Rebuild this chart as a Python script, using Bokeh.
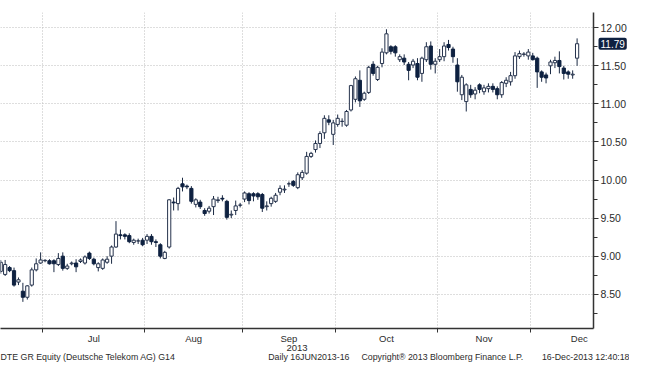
import pandas as pd
from bokeh.plotting import figure
from bokeh.models import (ColumnDataSource, FixedTicker, SingleIntervalTicker,
                          NumeralTickFormatter, Label, Range1d, LinearAxis)
from bokeh.embed import file_html
from bokeh.resources import INLINE

# ---- data -------------------------------------------------------------
dates = pd.bdate_range("2013-06-17", "2013-12-16")  # 131 trading days

opens = [8.80, 8.76, 8.85, 8.81, 8.66, 8.54, 8.46, 8.62, 8.82, 8.91,
         8.94, 8.94, 8.94, 8.89, 9.00, 8.84, 8.90, 8.91, 8.93, 8.91,
         9.04, 8.96, 8.85, 8.84, 8.92, 9.00, 9.12, 9.28, 9.28, 9.27,
         9.18, 9.20, 9.21, 9.21, 9.26, 9.19, 9.15, 8.97, 9.12, 9.71,
         9.69, 9.95, 9.92, 9.89, 9.68, 9.71, 9.60, 9.59, 9.65, 9.73,
         9.76, 9.72, 9.54, 9.60, 9.67, 9.75, 9.82, 9.82, 9.82, 9.81,
         9.65, 9.69, 9.72, 9.84, 9.87, 9.95, 9.98, 9.90, 10.03, 10.09,
         10.31, 10.40, 10.48, 10.62, 10.79, 10.60, 10.73, 10.77, 10.72, 10.92,
         11.06, 11.31, 11.06, 11.15, 11.52, 11.32, 11.53, 11.67, 11.75, 11.75,
         11.58, 11.60, 11.52, 11.51, 11.53, 11.40, 11.58, 11.76, 11.52, 11.58,
         11.62, 11.78, 11.72, 11.51, 11.12, 11.03, 11.19, 11.13, 11.25, 11.16,
         11.20, 11.23, 11.20, 11.12, 11.27, 11.29, 11.37, 11.62, 11.65, 11.63,
         11.63, 11.60, 11.42, 11.38, 11.50, 11.54, 11.57, 11.47, 11.42, 11.38,
         11.60]
highs = [8.95, 8.95, 8.87, 8.85, 8.72, 8.65, 8.62, 8.85, 8.97, 9.05,
         8.96, 8.96, 8.96, 9.04, 9.05, 8.90, 8.93, 8.96, 8.97, 9.01,
         9.06, 8.98, 8.92, 8.97, 9.00, 9.14, 9.46, 9.35, 9.30, 9.30,
         9.23, 9.23, 9.24, 9.29, 9.29, 9.22, 9.17, 9.07, 9.75, 9.77,
         9.91, 10.03, 9.94, 9.92, 9.76, 9.74, 9.63, 9.66, 9.79, 9.78,
         9.80, 9.74, 9.60, 9.73, 9.70, 9.85, 9.84, 9.84, 9.84, 9.83,
         9.72, 9.78, 9.83, 9.93, 9.93, 9.98, 10.00, 10.10, 10.13, 10.37,
         10.37, 10.52, 10.64, 10.85, 10.85, 10.79, 10.86, 10.81, 10.92, 11.25,
         11.36, 11.44, 11.16, 11.50, 11.56, 11.50, 11.73, 11.98, 11.77, 11.77,
         11.65, 11.65, 11.55, 11.59, 11.60, 11.62, 11.81, 11.82, 11.60, 11.72,
         11.81, 11.84, 11.75, 11.60, 11.38, 11.27, 11.25, 11.22, 11.27, 11.25,
         11.27, 11.27, 11.23, 11.30, 11.35, 11.42, 11.68, 11.70, 11.68, 11.72,
         11.67, 11.62, 11.44, 11.41, 11.58, 11.62, 11.69, 11.50, 11.44, 11.44,
         11.86]
lows = [8.77, 8.74, 8.79, 8.60, 8.62, 8.40, 8.43, 8.60, 8.80, 8.90,
        8.92, 8.89, 8.79, 8.87, 8.81, 8.82, 8.88, 8.79, 8.91, 8.89,
        8.95, 8.88, 8.80, 8.82, 8.90, 8.90, 9.11, 9.22, 9.22, 9.17,
        9.15, 9.16, 9.13, 9.16, 9.15, 9.12, 8.97, 8.96, 9.10, 9.60,
        9.60, 9.85, 9.88, 9.69, 9.64, 9.62, 9.53, 9.56, 9.54, 9.70,
        9.72, 9.48, 9.50, 9.54, 9.64, 9.71, 9.68, 9.72, 9.74, 9.58,
        9.60, 9.65, 9.70, 9.80, 9.83, 9.91, 9.91, 9.88, 10.00, 10.07,
        10.29, 10.36, 10.42, 10.54, 10.72, 10.46, 10.70, 10.70, 10.70, 10.90,
        11.02, 10.96, 11.04, 11.13, 11.37, 11.30, 11.48, 11.65, 11.65, 11.62,
        11.55, 11.51, 11.31, 11.47, 11.31, 11.29, 11.55, 11.45, 11.40, 11.55,
        11.56, 11.70, 11.54, 11.16, 11.05, 10.90, 11.08, 11.06, 11.14, 11.12,
        11.15, 11.15, 11.06, 11.08, 11.22, 11.24, 11.33, 11.59, 11.62, 11.58,
        11.57, 11.21, 11.29, 11.27, 11.39, 11.47, 11.40, 11.32, 11.33, 11.33,
        11.50]
closes = [8.92, 8.89, 8.81, 8.62, 8.69, 8.46, 8.61, 8.82, 8.90, 8.95,
          8.945, 8.90, 8.90, 8.97, 8.84, 8.87, 8.91, 8.86, 8.95, 8.99,
          8.97, 8.90, 8.90, 8.95, 8.96, 9.12, 9.29, 9.27, 9.26, 9.19,
          9.21, 9.20, 9.15, 9.26, 9.19, 9.18, 9.00, 9.05, 9.74, 9.70,
          9.89, 9.91, 9.91, 9.72, 9.74, 9.65, 9.56, 9.63, 9.75, 9.74,
          9.75, 9.51, 9.55, 9.66, 9.67, 9.83, 9.73, 9.79, 9.78, 9.63,
          9.66, 9.76, 9.80, 9.89, 9.88, 9.95, 9.93, 10.07, 10.10, 10.31,
          10.35, 10.48, 10.61, 10.81, 10.76, 10.75, 10.81, 10.77, 10.90, 11.24,
          11.33, 11.04, 11.14, 11.48, 11.40, 11.48, 11.68, 11.92, 11.69, 11.67,
          11.62, 11.55, 11.44, 11.56, 11.35, 11.60, 11.75, 11.52, 11.56, 11.62,
          11.76, 11.74, 11.62, 11.29, 11.35, 11.25, 11.12, 11.18, 11.19, 11.21,
          11.23, 11.19, 11.12, 11.28, 11.31, 11.37, 11.63, 11.66, 11.655, 11.68,
          11.58, 11.42, 11.35, 11.34, 11.55, 11.57, 11.49, 11.40, 11.39, 11.39,
          11.79]

y_ticks_step = 0.5
year_label = "2013"
footer_texts = ["DTE GR Equity (Deutsche Telekom AG) G14",
                "Daily 16JUN2013-16",
                "Copyright\u00ae 2013 Bloomberg Finance L.P.",
                "16-Dec-2013 12:40:18"]

# ---- derived positions --------------------------------------------------
n = len(dates)
idx = list(range(n))
month_bounds = [i - 0.5 for i in range(1, n) if dates[i].month != dates[i - 1].month]
month_names = []
month_centers = []
for b in month_bounds:
    d = dates[int(b + 0.5)]
    full = pd.bdate_range(d, d + pd.offsets.MonthEnd(0))
    month_centers.append(b + len(full) / 2.0)
    month_names.append(d.strftime("%b"))

up = [c >= o for o, c in zip(opens, closes)]
src_up = ColumnDataSource(dict(
    x=[i for i in idx if up[i]],
    top=[closes[i] for i in idx if up[i]],
    bottom=[opens[i] for i in idx if up[i]]))
src_dn = ColumnDataSource(dict(
    x=[i for i in idx if not up[i]],
    top=[opens[i] for i in idx if not up[i]],
    bottom=[closes[i] for i in idx if not up[i]]))
src_w = ColumnDataSource(dict(x=idx, h=highs, l=lows))

# ---- figure ---------------------------------------------------------
FONT = "Liberation Sans"
INK = "#2b2b2b"
NAVY = "#0e2140"
X_END = 133.7

p = figure(width=629, height=364, x_range=Range1d(-0.05, X_END),
           y_range=Range1d(8.05, 12.2), y_axis_location="right",
           output_backend="svg", toolbar_location=None,
           min_border_left=0, min_border_top=0, min_border_right=33,
           min_border_bottom=0)
p.outline_line_color = None
p.background_fill_color = "white"
p.border_fill_color = "white"

p.segment(x0="x", y0="l", x1="x", y1="h", source=src_w,
          line_color="#1b2a44", line_width=1)
p.vbar(x="x", top="top", bottom="bottom", width=0.72, source=src_up,
       fill_color="white", line_color="#26334d", line_width=1)
p.vbar(x="x", top="top", bottom="bottom", width=0.72, source=src_dn,
       fill_color=NAVY, line_color=NAVY, line_width=1)

# y axis (right)
ya = p.yaxis[0]
ya.ticker = SingleIntervalTicker(interval=y_ticks_step, num_minor_ticks=2)
ya.formatter = NumeralTickFormatter(format="0.00")
ya.axis_line_color = "#333333"
ya.axis_line_width = 1.5
ya.major_tick_in = 0
ya.major_tick_out = 5
ya.minor_tick_in = 0
ya.minor_tick_out = 4
ya.major_tick_line_color = "#333333"
ya.minor_tick_line_color = "#333333"
ya.major_label_text_font = FONT
ya.major_label_text_font_size = "10.5px"
ya.major_label_text_color = INK
ya.major_label_standoff = 2

# x axis (below): month labels + year
xa = p.xaxis[0]
xa.ticker = FixedTicker(ticks=month_centers, minor_ticks=month_bounds)
xa.major_label_overrides = {c: m for c, m in zip(month_centers, month_names)}
xa.axis_line_color = "#333333"
xa.axis_line_width = 1.5
xa.major_tick_in = 0
xa.major_tick_out = 0
xa.minor_tick_in = 0
xa.minor_tick_out = 4
xa.minor_tick_line_color = "#333333"
xa.major_label_text_font = FONT
xa.major_label_text_font_size = "9.5px"
xa.major_label_text_color = INK
xa.major_label_standoff = 0
xa.axis_label = year_label
xa.axis_label_text_font = FONT
xa.axis_label_text_font_size = "9.5px"
xa.axis_label_text_font_style = "normal"
xa.axis_label_text_color = INK
xa.axis_label_standoff = -2

# footer line as a second, line-less axis below (ticks must stay inside x range)
footer_pos = [19.4, 69.5, 99.6, 133.4]
fa = LinearAxis(ticker=FixedTicker(ticks=footer_pos),
                major_label_overrides={k: t for k, t in zip(footer_pos, footer_texts)})
fa.axis_line_color = None
fa.major_tick_line_color = None
fa.minor_tick_line_color = None
fa.major_tick_out = 0
fa.major_tick_in = 0
fa.minor_tick_out = 0
fa.minor_tick_in = 0
fa.major_label_standoff = -2
fa.major_label_text_font = FONT
fa.major_label_text_font_size = "8.8px"
fa.major_label_text_color = INK
p.add_layout(fa, "below")

# grids
p.xgrid.ticker = FixedTicker(ticks=month_bounds)
for g in (p.xgrid[0], p.ygrid[0]):
    g.grid_line_color = "#bdbdbd"
    g.grid_line_dash = "1 2"
    g.grid_line_width = 1

# last price tag (held by a side panel so it is not clipped to the frame)
p.add_layout(Label(x=X_END, y=closes[-1], x_offset=5,
                   text=f"{closes[-1]:.2f}", text_align="left",
                   text_baseline="middle", text_color="white", text_font=FONT,
                   text_font_size="10px", background_fill_color=NAVY,
                   padding=2, border_radius=2), "above")

open("out.html", "w").write(file_html(p, INLINE))
